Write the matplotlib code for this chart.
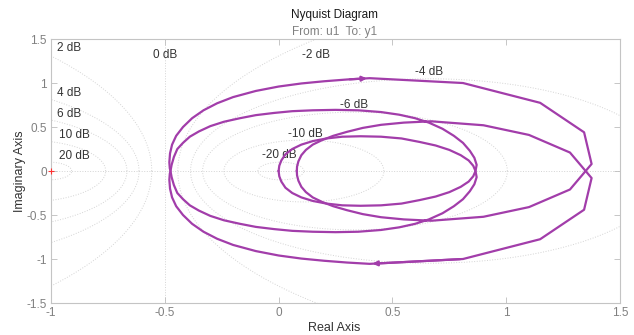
import numpy as np
import matplotlib.pyplot as plt

plt.rcParams['font.family'] = ['Liberation Sans', 'DejaVu Sans']

# positive-frequency branch
# inner loop that starts on the real axis near 0.08 (coarse steps on the right)
seg1_re = [0.08, 0.081, 0.087, 0.10, 0.12, 0.15, 0.19, 0.24, 0.30, 0.37, 0.45, 0.55, 0.67,
           0.90, 1.10, 1.28, 1.375]
seg1_im = [0.0, 0.05, 0.11, 0.18, 0.24, 0.30, 0.35, 0.40, 0.445, 0.49, 0.525, 0.55, 0.565,
           0.52, 0.41, 0.21, -0.08]
# outer loop, lower half
seg2_re = [1.342, 1.149, 0.81, 0.40, 0.30, 0.20, 0.10, 0.0, -0.10, -0.20, -0.27, -0.33, -0.38,
           -0.42, -0.45, -0.468, -0.477, -0.48, -0.478, -0.475]
seg2_im = [-0.44, -0.775, -1.0, -1.055, -1.04, -1.02, -0.995, -0.96, -0.91, -0.84, -0.77, -0.69, -0.60,
           -0.50, -0.40, -0.30, -0.20, -0.10, -0.03, 0.0]
# middle loop, upper half
seg3_re = [-0.47, -0.46, -0.445, -0.42, -0.39, -0.35, -0.30, -0.24, -0.17, -0.10, -0.02, 0.06, 0.15,
           0.25, 0.35, 0.45, 0.53, 0.60, 0.66, 0.72, 0.77, 0.81, 0.84, 0.86, 0.87, 0.865]
seg3_im = [0.07, 0.16, 0.25, 0.32, 0.39, 0.45, 0.51, 0.56, 0.60, 0.635, 0.66, 0.68, 0.69,
           0.695, 0.69, 0.67, 0.64, 0.60, 0.55, 0.48, 0.40, 0.32, 0.23, 0.15, 0.07, 0.0]
# small loop, lower half, ends at the origin
seg4_re = [0.855, 0.835, 0.80, 0.75, 0.69, 0.62, 0.54, 0.45, 0.36, 0.28, 0.21, 0.15, 0.10,
           0.06, 0.03, 0.012, 0.003, 0.0]
seg4_im = [-0.06, -0.12, -0.18, -0.24, -0.29, -0.33, -0.37, -0.39, -0.395, -0.39, -0.37, -0.34, -0.30,
           -0.25, -0.19, -0.12, -0.06, 0.0]

re_pos = np.array(seg1_re + seg2_re + seg3_re + seg4_re)
im_pos = np.array(seg1_im + seg2_im + seg3_im + seg4_im)

# M-circle levels of the grid
grid_db = [20, 10, 6, 4, 2, 0, -2, -4, -6, -10, -20]

line_col = '#A23DAA'
grid_col = '#d4d4d4'

fig = plt.figure(figsize=(6.34, 3.35), dpi=100)
ax = fig.add_axes([0.0804, 0.0955, 0.8976, 0.788])

# grid: constant closed-loop gain circles
t = np.linspace(0, 2 * np.pi, 721)
for db in grid_db:
    m = 10 ** (db / 20)
    if db == 0:
        ax.axvline(-0.5, color=grid_col, lw=0.7, ls=':', zorder=1)
        continue
    c = -m ** 2 / (m ** 2 - 1)
    r = abs(m / (m ** 2 - 1))
    ax.plot(c + r * np.cos(t), r * np.sin(t), color=grid_col, lw=0.7, ls=':', zorder=1)
ax.axhline(0, color=grid_col, lw=0.7, ls=':', zorder=1)

# dB labels
lab_kw = dict(fontsize=8.5, color='#333333', zorder=2)
ax.text(-0.975, 1.40, '2 dB', ha='left', va='center', **lab_kw)
ax.text(-0.975, 0.89, '4 dB', ha='left', va='center', **lab_kw)
ax.text(-0.975, 0.65, '6 dB', ha='left', va='center', **lab_kw)
ax.text(-0.965, 0.41, '10 dB', ha='left', va='center', **lab_kw)
ax.text(-0.965, 0.17, '20 dB', ha='left', va='center', **lab_kw)
ax.text(-0.5, 1.32, '0 dB', ha='center', va='center', **lab_kw)
ax.text(0.165, 1.32, '-2 dB', ha='center', va='center', **lab_kw)
ax.text(0.66, 1.125, '-4 dB', ha='center', va='center', **lab_kw)
ax.text(0.33, 0.75, '-6 dB', ha='center', va='center', **lab_kw)
ax.text(0.117, 0.42, '-10 dB', ha='center', va='center', **lab_kw)
ax.text(0.005, 0.18, '-20 dB', ha='center', va='center', **lab_kw)

# response and its mirror image
ax.plot(re_pos, im_pos, color=line_col, lw=1.6, zorder=3)
ax.plot(re_pos, -im_pos, color=line_col, lw=1.6, zorder=3)

# direction arrows on the outer loop
i = len(seg1_re) + 3
ax.annotate('', xy=(re_pos[i], im_pos[i]), xytext=(re_pos[i - 1], im_pos[i - 1]),
            arrowprops=dict(arrowstyle='-|>', color=line_col, lw=1.6, mutation_scale=7), zorder=4)
ax.annotate('', xy=(re_pos[i], -im_pos[i]), xytext=(re_pos[i + 1], -im_pos[i + 1]),
            arrowprops=dict(arrowstyle='-|>', color=line_col, lw=1.6, mutation_scale=7), zorder=4)

# critical point
ax.plot(-1, 0, marker='+', color='#ff3030', ms=4, mew=0.8, zorder=4, clip_on=False)

ax.set_xlim(-1, 1.5)
ax.set_ylim(-1.5, 1.5)
ax.set_xticks([-1, -0.5, 0, 0.5, 1, 1.5])
ax.set_yticks([-1.5, -1, -0.5, 0, 0.5, 1, 1.5])
ax.set_xticklabels(['-1', '-0.5', '0', '0.5', '1', '1.5'])
ax.set_yticklabels(['-1.5', '-1', '-0.5', '0', '0.5', '1', '1.5'])
ax.tick_params(direction='in', length=4, width=0.6, colors='#bdbdbd', labelcolor='#808080',
               labelsize=8.5, top=True, right=True, pad=3)
for s in ax.spines.values():
    s.set_color('#c4c4c4')
    s.set_linewidth(0.8)

fig.text(0.528, 0.955, 'Nyquist Diagram', ha='center', va='center', fontsize=8.5, color='#1a1a1a')
fig.text(0.528, 0.905, 'From: u1  To: y1', ha='center', va='center', fontsize=8.5, color='#808080')
fig.text(0.527, 0.022, 'Real Axis', ha='center', va='center', fontsize=9, color='#333333')
fig.text(0.032, 0.488, 'Imaginary Axis', ha='center', va='center', rotation=90, fontsize=9, color='#333333')

fig.savefig('out.png', dpi=100)
